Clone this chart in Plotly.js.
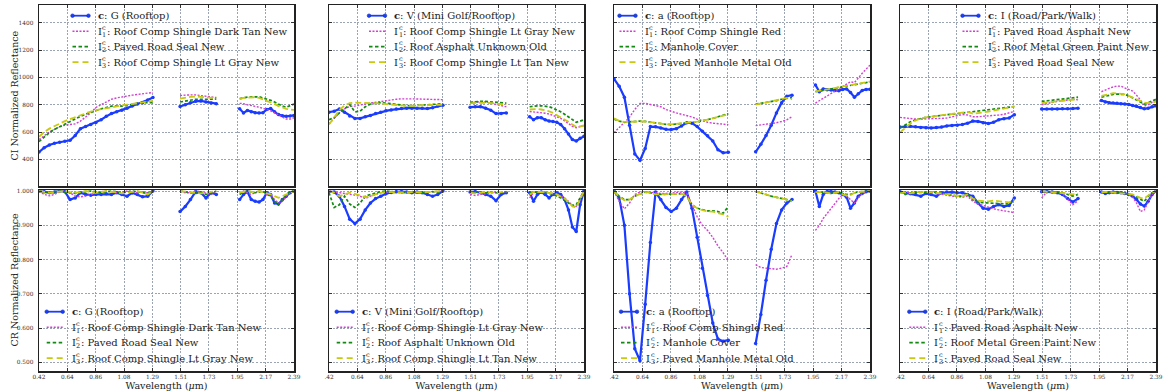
<!DOCTYPE html>
<html>
<head>
<meta charset="utf-8">
<script src="https://cdn.plot.ly/plotly-3.0.1.min.js"></script>
<style>html,body{margin:0;padding:0;background:#fff;}#chart{width:1167px;height:392px;}</style>
</head>
<body>
<div id="chart"></div>
<script>
// ---------------- DATA ----------------
const WL_A = [0.42,0.46,0.50,0.54,0.58,0.62,0.66,0.70,0.74,0.78,0.82,0.86,0.90,0.94,0.98,1.02,1.06,1.10,1.14,1.18,1.22,1.26,1.30];
const WL_B = [1.51,1.55,1.59,1.63,1.67,1.71,1.75,1.79];
const WL_C = [1.97,2.00,2.03,2.06,2.09,2.12,2.15,2.18,2.21,2.24,2.27,2.30,2.33,2.36,2.39];
const WAVELENGTH = [...WL_A, 1.40, ...WL_B, 1.88, ...WL_C];
function seg(a, b, c) { return [...a, null, ...b, null, ...c]; }

const X_TICK_VALS = [0.42,0.639,0.858,1.077,1.296,1.514,1.733,1.952,2.171,2.39];
const X_TICK_TEXT = ['0.42','0.64','0.86','1.08','1.29','1.51','1.73','1.95','2.17','2.39'];
const X_TICK_TEXT_CUT = ['.42','0.64','0.86','1.08','1.29','1.51','1.73','1.95','2.17','2.39'];
const CI_TICKS = [400,600,800,1000,1200,1400];
const CR_TICKS = [0.5,0.6,0.7,0.8,0.9,1.0];

const PANEL_NAMES = ['G (Rooftop)','V (Mini Golf/Rooftop)','a (Rooftop)','I (Road/Park/Walk)'];
const REF_NAMES = [
  ['Roof Comp Shingle Dark Tan New','Paved Road Seal New','Roof Comp Shingle Lt Gray New'],
  ['Roof Comp Shingle Lt Gray New','Roof Asphalt Unknown Old','Roof Comp Shingle Lt Tan New'],
  ['Roof Comp Shingle Red','Manhole Cover','Paved Manhole Metal Old'],
  ['Paved Road Asphalt New','Roof Metal Green Paint New','Paved Road Seal New']
];
const Y_TITLES = ['CI Normalized Reflectance','CR Normalized Reflectance'];
const X_TITLE = 'Wavelength (<i>μ</i>m)';

// Panel 1 : G (Rooftop)
const CI_P1_C  = seg([453,485,505,518,525,532,540,575,625,640,655,670,690,715,735,748,760,775,790,805,815,835,853],[787,800,815,825,828,820,812,808],[770,740,758,748,742,740,742,765,772,748,728,720,715,718,722]);
const CI_P1_R1 = seg([545,575,600,620,640,650,655,660,680,710,740,780,800,815,840,850,858,865,870,875,880,885,890],[868,872,872,872,868,862,858,852],[810,808,800,792,788,782,775,765,755,740,722,705,695,695,705]);
const CI_P1_R2 = seg([530,565,595,620,640,660,680,700,715,730,745,760,770,780,790,792,790,795,805,810,815,815,815],[820,828,835,840,840,838,840,842],[845,852,855,858,860,858,850,842,832,820,805,790,782,795,805]);
const CI_P1_R3 = seg([565,600,625,645,665,680,695,710,725,740,750,760,768,775,782,790,795,800,805,810,815,820,828],[845,852,858,860,860,855,850,855],[840,850,852,855,855,850,840,830,815,805,790,778,770,765,762]);
const CR_P1_C  = seg([1.0,0.998,0.995,0.997,1.0,0.998,0.975,0.98,0.995,0.99,0.988,0.99,0.99,0.992,0.99,0.995,0.99,0.985,0.995,0.99,0.983,0.985,1.0],[0.94,0.955,0.975,0.998,0.995,0.98,0.995,0.99],[0.975,0.99,0.998,0.975,0.97,0.968,0.975,0.995,0.99,0.965,0.962,0.975,0.985,0.995,1.0]);
const CR_P1_R1 = seg([1.0,0.99,0.986,0.99,0.998,1.0,0.995,0.985,0.983,0.985,0.99,0.995,0.998,1.0,0.998,0.995,0.997,1.0,0.998,0.995,0.998,0.995,1.0],[0.998,0.995,0.995,1.0,0.998,0.995,0.99,1.0],[0.995,1.0,0.995,0.99,0.995,1.0,0.998,0.99,0.99,0.975,0.965,0.97,0.985,0.995,1.0]);
const CR_P1_R2 = seg([1.0,0.997,0.995,0.998,1.0,0.997,0.995,0.993,0.995,0.998,1.0,0.998,0.995,0.997,1.0,0.998,0.995,0.997,1.0,0.998,0.995,0.993,1.0],[1.0,0.997,0.995,0.993,0.995,0.99,0.993,1.0],[0.99,0.997,1.0,0.998,0.995,0.997,1.0,0.99,0.985,0.97,0.96,0.975,0.99,0.998,1.0]);
const CR_P1_R3 = seg([1.0,0.998,0.995,0.997,0.998,1.0,0.997,0.995,0.997,1.0,0.998,0.995,0.997,1.0,0.998,0.995,0.993,0.995,0.998,1.0,0.995,0.99,1.0],[1.0,0.998,0.997,0.995,0.993,0.995,0.998,1.0],[0.995,0.998,1.0,0.998,0.997,1.0,0.997,0.993,0.99,0.985,0.98,0.985,0.99,0.997,1.0]);

// Panel 2 : V (Mini Golf/Rooftop)
const CI_P2_C  = seg([745,752,768,745,718,700,700,712,722,735,745,755,762,768,772,775,775,775,775,772,778,790,797],[782,785,786,775,760,735,735,740],[712,690,705,705,690,680,677,672,655,625,585,545,535,555,570]);
const CI_P2_R1 = seg([660,700,740,770,787,790,795,805,812,818,825,830,835,840,843,845,843,842,841,840,840,838,837],[816,820,822,820,812,805,795,785],[750,748,746,743,738,732,722,712,700,682,662,642,632,640,648]);
const CI_P2_R2 = seg([690,705,740,770,800,748,752,785,805,812,815,812,806,800,797,793,792,795,798,800,802,805,807],[818,822,825,824,820,817,815,812],[785,790,792,792,790,785,775,762,748,730,712,692,672,680,690]);
const CI_P2_R3 = seg([655,710,760,795,812,815,815,815,815,812,810,805,800,797,795,792,792,793,795,797,798,800,800],[810,815,815,814,812,808,805,800],[765,768,768,765,760,752,740,725,710,692,675,655,638,642,648]);
const CR_P2_C  = seg([0.998,0.997,0.985,0.955,0.918,0.905,0.918,0.945,0.965,0.978,0.985,0.992,0.996,0.998,0.998,0.997,0.995,0.997,0.995,0.99,0.985,0.99,1.0],[0.997,0.998,0.995,0.99,0.985,0.972,0.99,0.995],[0.995,0.97,0.99,0.997,0.99,0.98,0.99,0.995,0.99,0.975,0.945,0.895,0.882,0.96,1.0]);
const CR_P2_R1 = seg([1.0,0.998,0.996,0.993,0.99,0.988,0.985,0.978,0.985,0.99,0.995,0.997,0.998,0.997,0.995,0.997,0.998,0.997,0.995,0.997,0.998,0.997,1.0],[0.99,0.987,0.99,0.993,0.995,0.997,0.995,0.998],[0.98,0.995,0.997,0.998,0.997,0.995,0.993,0.99,0.985,0.98,0.97,0.958,0.955,0.975,1.0]);
const CR_P2_R2 = seg([0.995,0.952,0.96,0.985,0.962,0.952,0.965,0.985,0.99,0.995,0.998,1.0,0.998,0.997,0.995,0.997,0.998,0.996,0.995,0.997,0.998,0.996,1.0],[0.998,0.997,0.996,0.995,0.997,0.995,0.993,0.998],[0.995,0.998,0.997,0.996,0.995,0.993,0.99,0.985,0.982,0.975,0.965,0.958,0.96,0.98,1.0]);
const CR_P2_R3 = seg([1.0,0.995,0.985,0.99,0.995,0.992,0.988,0.982,0.985,0.99,0.995,0.997,0.998,0.997,0.996,0.997,0.998,0.997,0.996,0.997,0.998,0.997,1.0],[0.995,0.993,0.995,0.997,0.996,0.995,0.997,0.998],[0.99,0.997,0.998,0.997,0.996,0.995,0.993,0.99,0.985,0.978,0.968,0.955,0.952,0.975,1.0]);

// Panel 3 : a (Rooftop)
const CI_P3_C  = seg([990,935,855,650,440,393,480,640,638,630,620,618,625,645,668,665,640,605,572,535,470,448,452],[455,510,575,650,740,815,862,870],[945,895,915,910,908,905,903,912,915,890,855,880,905,912,913]);
const CI_P3_R1 = seg([595,630,670,710,765,810,810,802,796,785,765,750,740,730,722,710,695,682,672,665,660,656,654],[647,652,656,662,668,677,690,712],[812,830,848,865,882,898,915,935,950,968,962,1000,1030,1060,1090]);
const CI_P3_R2 = seg([695,680,672,675,678,680,678,672,665,660,656,655,658,664,668,670,675,682,690,700,712,722,734],[804,810,815,822,830,840,848,852],[895,900,905,910,913,918,923,928,932,937,942,948,955,962,968]);
const CI_P3_R3 = seg([700,682,674,676,679,680,678,672,666,660,657,656,659,664,668,671,676,682,690,699,710,720,730],[800,808,814,822,830,842,850,840],[897,902,907,912,915,920,925,930,934,939,944,950,957,964,970]);
const CR_P3_C  = seg([1.0,0.98,0.9,0.70,0.54,0.505,0.67,0.85,0.997,0.975,0.952,0.94,0.95,0.975,0.997,0.95,0.865,0.775,0.695,0.615,0.568,0.562,0.565],[0.555,0.64,0.74,0.83,0.905,0.945,0.965,0.975],[1.0,0.955,0.99,0.998,0.998,0.997,0.995,0.99,0.982,0.95,0.965,0.985,0.993,0.998,1.0]);
const CR_P3_R1 = seg([1.0,0.97,0.948,0.965,0.99,0.997,0.998,0.996,0.995,0.993,0.993,0.995,0.995,0.997,0.993,0.96,0.925,0.9,0.885,0.865,0.84,0.82,0.797],[0.785,0.777,0.775,0.773,0.772,0.775,0.78,0.815],[0.885,0.9,0.92,0.935,0.95,0.963,0.978,0.99,0.985,0.975,0.965,0.98,0.993,0.998,1.0]);
const CR_P3_R2 = seg([1.0,0.985,0.975,0.975,0.985,0.99,0.997,0.995,0.99,0.99,0.99,0.99,0.992,0.992,0.985,0.96,0.95,0.945,0.942,0.942,0.94,0.935,0.955],[0.998,0.995,0.99,0.985,0.982,0.978,0.975,0.97],[0.997,0.998,0.997,0.995,0.993,0.995,0.997,0.993,0.99,0.99,0.995,0.997,0.998,1.0,1.0]);
const CR_P3_R3 = seg([1.0,0.983,0.973,0.975,0.985,0.99,0.997,0.995,0.99,0.99,0.99,0.99,0.992,0.992,0.985,0.96,0.95,0.944,0.941,0.94,0.936,0.932,0.925],[0.998,0.995,0.99,0.985,0.982,0.978,0.975,0.97],[0.997,0.998,0.997,0.995,0.993,0.995,0.997,0.99,0.987,0.988,0.995,0.997,0.998,1.0,1.0]);

// Panel 4 : I (Road/Park/Walk)
const CI_P4_C  = seg([637,640,642,638,634,632,630,633,636,645,648,650,655,665,680,678,668,662,672,690,698,703,727],[768,768,769,769,770,770,772,775],[830,820,815,812,810,808,805,802,795,788,780,770,775,785,792]);
const CI_P4_R1 = seg([707,702,697,695,695,695,695,697,700,703,710,720,728,725,712,712,714,716,720,725,730,738,751],[800,810,818,825,830,835,840,836],[895,910,920,930,936,935,925,915,900,870,836,790,800,818,836]);
const CI_P4_R2 = seg([630,655,675,690,700,708,712,718,722,727,730,735,738,742,746,750,755,760,765,770,775,780,787],[824,828,832,836,840,845,850,855],[855,862,870,876,878,879,875,865,850,835,815,805,815,825,840]);
const CI_P4_R3 = seg([598,632,662,685,700,708,712,718,722,727,732,738,742,748,735,738,743,750,758,765,772,780,787],[812,816,820,824,828,832,838,841],[865,872,880,884,883,880,875,865,853,840,825,815,812,815,824]);
const CR_P4_C  = seg([0.998,0.995,0.992,0.99,0.985,0.993,0.99,0.985,0.995,0.997,0.997,0.995,0.995,0.99,0.985,0.965,0.95,0.947,0.955,0.96,0.955,0.958,0.98],[0.998,0.998,0.997,0.995,0.99,0.978,0.968,0.978],[0.997,0.993,0.995,0.997,0.996,0.995,0.993,0.99,0.985,0.975,0.962,0.956,0.97,0.99,1.0]);
const CR_P4_R1 = seg([0.998,0.997,0.995,0.997,0.996,0.998,0.996,0.994,0.99,0.988,0.985,0.983,0.982,0.985,0.97,0.963,0.958,0.952,0.948,0.945,0.942,0.94,0.937],[0.98,0.997,0.998,0.997,0.993,0.975,0.96,0.972],[0.997,0.997,0.996,0.995,0.995,0.993,0.993,0.99,0.982,0.965,0.94,0.945,0.968,0.99,1.0]);
const CR_P4_R2 = seg([0.998,0.99,0.995,0.997,0.996,0.997,0.998,0.997,0.995,0.99,0.988,0.985,0.985,0.99,0.975,0.968,0.966,0.965,0.965,0.963,0.963,0.962,0.975],[0.998,0.999,0.998,0.997,0.995,0.99,0.985,0.99],[0.997,0.997,0.995,0.996,0.997,0.995,0.993,0.99,0.988,0.982,0.975,0.97,0.985,0.995,1.0]);
const CR_P4_R3 = seg([0.998,0.995,0.993,0.997,0.998,0.997,0.996,0.995,0.993,0.99,0.99,0.985,0.985,0.99,0.978,0.972,0.97,0.97,0.972,0.97,0.968,0.967,0.975],[0.999,0.998,0.997,0.996,0.995,0.993,0.99,0.992],[0.997,0.998,0.997,0.996,0.995,0.995,0.994,0.992,0.99,0.985,0.98,0.978,0.988,0.996,1.0]);

const CI_SERIES = [
  [CI_P1_C, CI_P1_R1, CI_P1_R2, CI_P1_R3],
  [CI_P2_C, CI_P2_R1, CI_P2_R2, CI_P2_R3],
  [CI_P3_C, CI_P3_R1, CI_P3_R2, CI_P3_R3],
  [CI_P4_C, CI_P4_R1, CI_P4_R2, CI_P4_R3]
];
const CR_SERIES = [
  [CR_P1_C, CR_P1_R1, CR_P1_R2, CR_P1_R3],
  [CR_P2_C, CR_P2_R1, CR_P2_R2, CR_P2_R3],
  [CR_P3_C, CR_P3_R1, CR_P3_R2, CR_P3_R3],
  [CR_P4_C, CR_P4_R1, CR_P4_R2, CR_P4_R3]
];

// ---------------- STYLE / LAYOUT ----------------
const W = 1167, H = 392;
const FONT = 'DejaVu Serif, Liberation Serif, serif';
const STYLES = [
  {color:'#1a3cff', dash:'solid', width:2.2, marker:true, legDash:'solid', legW:1.8},
  {color:'#d23fd2', dash:'2px,1.5px', width:1.4, legDash:'2px,1.5px', legW:1.4},
  {color:'#128a12', dash:'3px,2px', width:1.7, legDash:'3.5px,2.5px', legW:1.8},
  {color:'#c9c912', dash:'6px,3px', width:1.8, legDash:'6px,4px', legW:1.8}
];
const XPIX = [[39,294],[329,584],[614,870],[900,1156]];
const TOP_PIX = [5,186], BOT_PIX = [190,371];
const LEG_TOP_TEXT_X = [97.5, 394, 644.5, 987.5];
const LEG_BOT_TEXT_X = [71.7, 361.7, 646, 934.3];
const LEG_TOP_ROWS = [15.7, 31.2, 46.7, 62.2];
const LEG_BOT_ROWS = [311.7, 327.2, 342.7, 358.2];

const px = v => v / W;
const py = v => 1 - v / H;

const traces = [];
const shapes = [];
const annotations = [];
const layout = {
  width: W, height: H,
  margin: {l:0, r:0, t:0, b:0},
  paper_bgcolor: '#fff', plot_bgcolor: '#fff',
  font: {family: FONT, color: '#222', size: 9.5},
  showlegend: false
};

function axName(prefix, k) { return k === 1 ? prefix : prefix + k; }

function txt(x, y, text, size, extra) {
  return Object.assign({
    xref: 'paper', yref: 'paper', x: px(x), y: py(y), text: text,
    showarrow: false, xanchor: 'left', yanchor: 'middle',
    borderpad: 0, borderwidth: 0,
    font: {family: FONT, size: size, color: '#222'}
  }, extra || {});
}

function addLegend(p, tx, rows) {
  for (let j = 0; j < 4; j++) {
    const s = STYLES[j], yc = rows[j];
    const x0 = tx - 25, x1 = tx - 9;
    shapes.push({type: 'line', xref: 'paper', yref: 'paper',
      x0: px(x0), x1: px(x1), y0: py(yc), y1: py(yc),
      line: {color: s.color, width: s.legW, dash: s.legDash}});
    if (j === 0) {
      [x0, x1].forEach(cx => shapes.push({type: 'circle', xref: 'paper', yref: 'paper',
        x0: px(cx - 1.8), x1: px(cx + 1.8), y0: py(yc + 1.8), y1: py(yc - 1.8),
        fillcolor: s.color, line: {color: '#1030a0', width: 0.6}}));
      annotations.push(txt(tx, yc, '<b>c</b>: ' + PANEL_NAMES[p], 10));
    } else {
      annotations.push(txt(tx, yc, 'I', 10));
      annotations.push(txt(tx + 4.6, yc - 3.3, 'c', 6.5));
      annotations.push(txt(tx + 4.6, yc + 3.6, String(j), 6.5));
      annotations.push(txt(tx + 9.5, yc, ': ' + REF_NAMES[p][j - 1], 10));
    }
  }
}

for (let p = 0; p < 4; p++) {
  const xd = [XPIX[p][0]/W, XPIX[p][1]/W];
  for (let row = 0; row < 2; row++) {
    const k = row === 0 ? p + 1 : p + 5;
    const series = row === 0 ? CI_SERIES[p] : CR_SERIES[p];
    series.forEach((ys, j) => {
      const s = STYLES[j];
      const tr = {
        type: 'scatter', x: WAVELENGTH, y: ys,
        xaxis: k === 1 ? 'x' : 'x' + k, yaxis: k === 1 ? 'y' : 'y' + k,
        mode: s.marker ? 'lines+markers' : 'lines',
        connectgaps: false,
        line: {color: s.color, dash: s.dash, width: s.width},
        name: (j === 0 ? 'c: ' + PANEL_NAMES[p] : 'I' + j + ': ' + REF_NAMES[p][j-1]),
        hoverinfo: 'skip'
      };
      if (s.marker) tr.marker = {size: 3.5, color: s.color};
      traces.push(tr);
    });
    const yp = row === 0 ? TOP_PIX : BOT_PIX;
    const yd = [1 - yp[1]/H, 1 - yp[0]/H];
    const common = {
      showline: true, linecolor: '#222', linewidth: 1.5, mirror: 'allticks',
      ticks: 'inside', ticklen: 3, tickcolor: '#333', tickwidth: 1,
      showgrid: true, gridcolor: '#9aa4b2', gridwidth: 1, griddash: '2px,1.5px',
      zeroline: false, fixedrange: true,
      tickfont: {family: FONT, size: 5.8, color: '#333'}
    };
    const xa = Object.assign({}, common, {
      domain: xd, anchor: k === 1 ? 'y' : 'y' + k,
      range: [0.42, 2.39], tickmode: 'array', tickvals: X_TICK_VALS,
      ticktext: p === 0 ? X_TICK_TEXT : X_TICK_TEXT_CUT,
      showticklabels: row === 1
    });
    if (row === 1) xa.title = {text: X_TITLE, font: {family: FONT, size: 9.5, color:'#222'}, standoff: 1};
    layout[axName('xaxis', k)] = xa;
    layout[axName('yaxis', k)] = Object.assign({}, common, {
      domain: yd, anchor: k === 1 ? 'x' : 'x' + k,
      range: row === 0 ? [205, 1530] : [0.475, 1.003],
      tickmode: 'array', tickvals: row === 0 ? CI_TICKS : CR_TICKS,
      tickformat: row === 0 ? 'd' : '.3f',
      showticklabels: p === 0,
      ticklabelstandoff: 3
    });
  }
  addLegend(p, LEG_TOP_TEXT_X[p], LEG_TOP_ROWS);
  addLegend(p, LEG_BOT_TEXT_X[p], LEG_BOT_ROWS);
}

// y-axis titles (rotated text beside the first column)
annotations.push(txt(14, (TOP_PIX[0] + TOP_PIX[1]) / 2, Y_TITLES[0], 9.5, {xanchor: 'center', textangle: -90}));
annotations.push(txt(14, (BOT_PIX[0] + BOT_PIX[1]) / 2, Y_TITLES[1], 9.5, {xanchor: 'center', textangle: -90}));

layout.shapes = shapes;
layout.annotations = annotations;

Plotly.newPlot('chart', traces, layout, {displayModeBar: false, staticPlot: true});
</script>
</body>
</html>
